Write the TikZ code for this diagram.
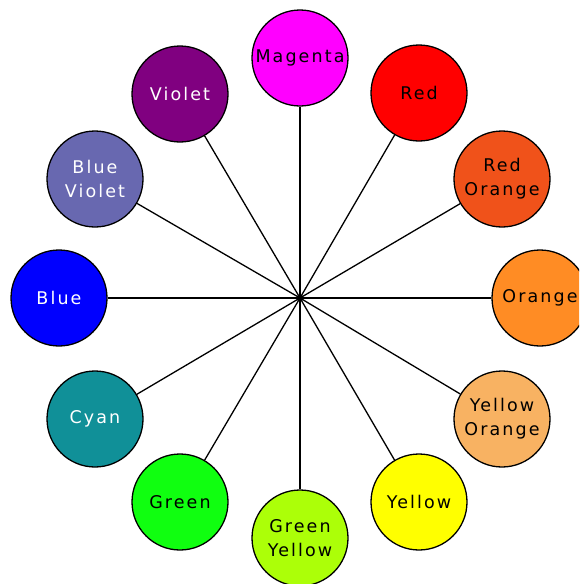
\documentclass[tikz,border=0pt]{standalone}
\usepackage{fontspec}
\setmainfont[LetterSpace=12]{DejaVu Sans}
\definecolor{cMagenta}{RGB}{255,0,255}
\definecolor{cRed}{RGB}{255,0,0}
\definecolor{cRedOrange}{RGB}{240,82,26}
\definecolor{cOrange}{RGB}{255,140,36}
\definecolor{cYellowOrange}{RGB}{248,178,98}
\definecolor{cYellow}{RGB}{255,255,0}
\definecolor{cGreenYellow}{RGB}{172,255,8}
\definecolor{cGreen}{RGB}{16,255,16}
\definecolor{cCyan}{RGB}{16,144,152}
\definecolor{cBlue}{RGB}{0,0,255}
\definecolor{cBlueViolet}{RGB}{104,104,176}
\definecolor{cViolet}{RGB}{128,0,128}
\tikzset{
  swatch/.style={circle, draw=black, line width=1.3pt, minimum size=96pt, inner sep=0pt,
    align=center, font=\fontsize{17.5}{24}\selectfont},
  spoke/.style={draw=black, line width=1.3pt},
}
\begin{document}
\begin{tikzpicture}[x=1pt,y=-1pt]
\useasboundingbox (0,0) rectangle (579,584);
\clip (0,0) rectangle (579,584);
\node[circle, fill=black, inner sep=0pt, minimum size=7pt] (c) at (300,298) {};
\node[swatch, fill=cMagenta] (magenta) at (300,58) {Magenta};
\node[swatch, fill=cRed] (red) at (419,93) {Red};
\node[swatch, fill=cRedOrange] (redorange) at (502,179) {Red\\Orange};
\node[swatch, fill=cOrange] (orange) at (540,298) {Orange};
\node[swatch, fill=cYellowOrange] (yelloworange) at (502,419) {Yellow\\Orange};
\node[swatch, fill=cYellow] (yellow) at (419,502) {Yellow};
\node[swatch, fill=cGreenYellow] (greenyellow) at (300,538) {Green\\Yellow};
\node[swatch, fill=cGreen] (green) at (180,502) {Green};
\node[swatch, fill=cCyan, text=white] (cyan) at (95,419) {Cyan};
\node[swatch, fill=cBlue, text=white] (blue) at (59,298) {Blue};
\node[swatch, fill=cBlueViolet, text=white] (blueviolet) at (95,179) {Blue\\Violet};
\node[swatch, fill=cViolet, text=white] (violet) at (180,94) {Violet};
\foreach \n in {magenta,red,redorange,orange,yelloworange,yellow,greenyellow,green,cyan,blue,blueviolet,violet}
  \draw[spoke] (c.center) -- (\n);
\end{tikzpicture}
\end{document}
